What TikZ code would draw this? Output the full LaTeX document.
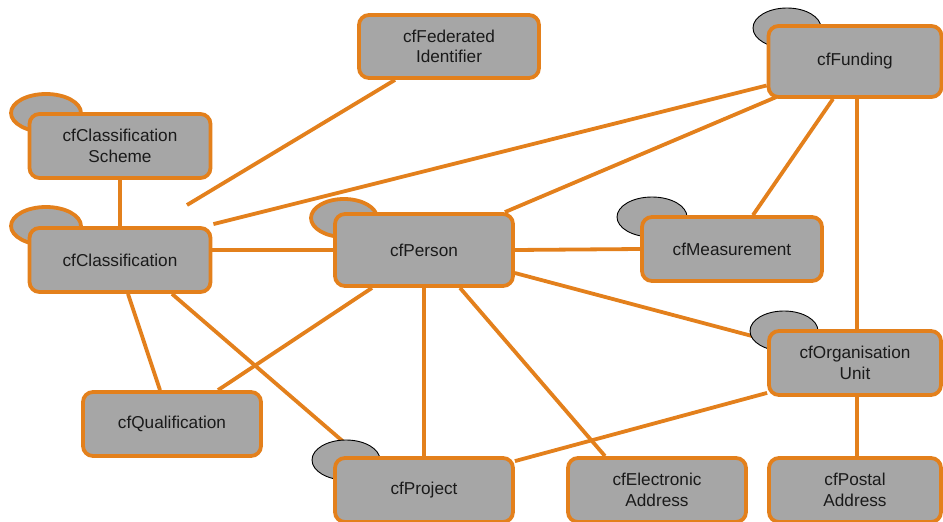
\documentclass[tikz,border=0pt]{standalone}
\usepackage{fontspec}
\setmainfont{Liberation Sans}
\usetikzlibrary{calc}
\definecolor{cfOrange}{HTML}{E3801C}
\definecolor{cfGray}{HTML}{A6A6A6}
\definecolor{cfText}{HTML}{1A1A1A}
\pgfdeclarelayer{edgelayer}
\pgfdeclarelayer{ovallayer}
\pgfsetlayers{edgelayer,ovallayer,main}
\tikzset{
  entity/.style={draw=cfOrange, line width=3.8pt, fill=cfGray, rounded corners=10pt,
    align=center, text=cfText, font=\fontsize{17.2}{20.5}\selectfont, inner sep=0pt},
  link/.style={draw=cfOrange, line width=3.8pt},
  ovalO/.style={draw=cfOrange, line width=3.8pt, fill=cfGray},
  ovalB/.style={draw=black, line width=0.9pt, fill=cfGray},
}
\begin{document}
\begin{tikzpicture}[x=1pt,y=-1pt]
\useasboundingbox (0,0) rectangle (943,522);
% entities
\node[entity, minimum width=180pt, minimum height=63pt] (fed) at (449,46.5) {cfFederated\\Identifier};
\node[entity, minimum width=173pt, minimum height=71pt] (fund) at (855,61.5) {cfFunding};
\node[entity, minimum width=181pt, minimum height=64pt] (cs) at (120,146) {cfClassification\\Scheme};
\node[entity, minimum width=181pt, minimum height=64pt] (cl) at (120,260) {cfClassification};
\node[entity, minimum width=178pt, minimum height=72pt] (per) at (424,250) {cfPerson};
\node[entity, minimum width=180pt, minimum height=64pt] (meas) at (732,249) {cfMeasurement};
\node[entity, minimum width=172pt, minimum height=64pt] (org) at (855,363) {cfOrganisation\\Unit};
\node[entity, minimum width=178pt, minimum height=64pt] (qual) at (172,424) {cfQualification};
\node[entity, minimum width=178pt, minimum height=64pt] (proj) at (424,490) {cfProject};
\node[entity, minimum width=178pt, minimum height=64pt] (elec) at (657,490) {cfElectronic\\Address};
\node[entity, minimum width=172pt, minimum height=64pt] (post) at (855,490) {cfPostal\\Address};
\coordinate (fedend) at (187,205);
% self-relation ovals
\begin{pgfonlayer}{ovallayer}
\draw[ovalO] (46,113) ellipse [x radius=35pt, y radius=19pt];
\draw[ovalO] (46,226) ellipse [x radius=35pt, y radius=19pt];
\draw[ovalO] (344,218) ellipse [x radius=33pt, y radius=19pt];
\draw[ovalB] (787,28) ellipse [x radius=34pt, y radius=20pt];
\draw[ovalB] (652,217) ellipse [x radius=35pt, y radius=20pt];
\draw[ovalB] (784,331) ellipse [x radius=34pt, y radius=20pt];
\draw[ovalB] (346,460) ellipse [x radius=34pt, y radius=20pt];
\end{pgfonlayer}
% connectors
\begin{pgfonlayer}{edgelayer}
\draw[link] (cs.south) -- (cl.north);
\draw[link] (cl.east|-per.west) -- (per.west);
\draw[link] ($(cl.south)+(8,0)$) -- ($(qual.north)+(-12,0)$);
\draw[link] ($(cl.south)+(52,0)$) -- ($(proj.north)+(-64,0)$);
\draw[link] ($(fed.south)+(-54,0)$) -- (fedend);
\draw[link] ($(fund.west)+(0,24)$) -- ($(cl.north east)+(1,-2)$);
\draw[link] ($(fund.south west)+(10,-2)$) -- ($(per.north east)+(-10,0)$);
\draw[link] ($(fund.south)+(-22,0)$) -- ($(meas.north)+(21,0)$);
\draw[link] ($(fund.south)+(2,0)$) -- ($(org.north)+(2,0)$);
\draw[link] (per.east) -- (meas.west);
\draw[link] ($(per.east)+(0,23)$) -- ($(org.west)+(0,-23)$);
\draw[link] ($(per.south)+(-52,0)$) -- ($(qual.north)+(46,0)$);
\draw[link] (per.south) -- (proj.north);
\draw[link] ($(per.south)+(36,0)$) -- ($(elec.north)+(-52,0)$);
\draw[link] ($(org.south west)+(0,-4)$) -- ($(proj.north east)+(0,5)$);
\draw[link] ($(org.south)+(2,0)$) -- ($(post.north)+(2,0)$);
\end{pgfonlayer}
\end{tikzpicture}
\end{document}
